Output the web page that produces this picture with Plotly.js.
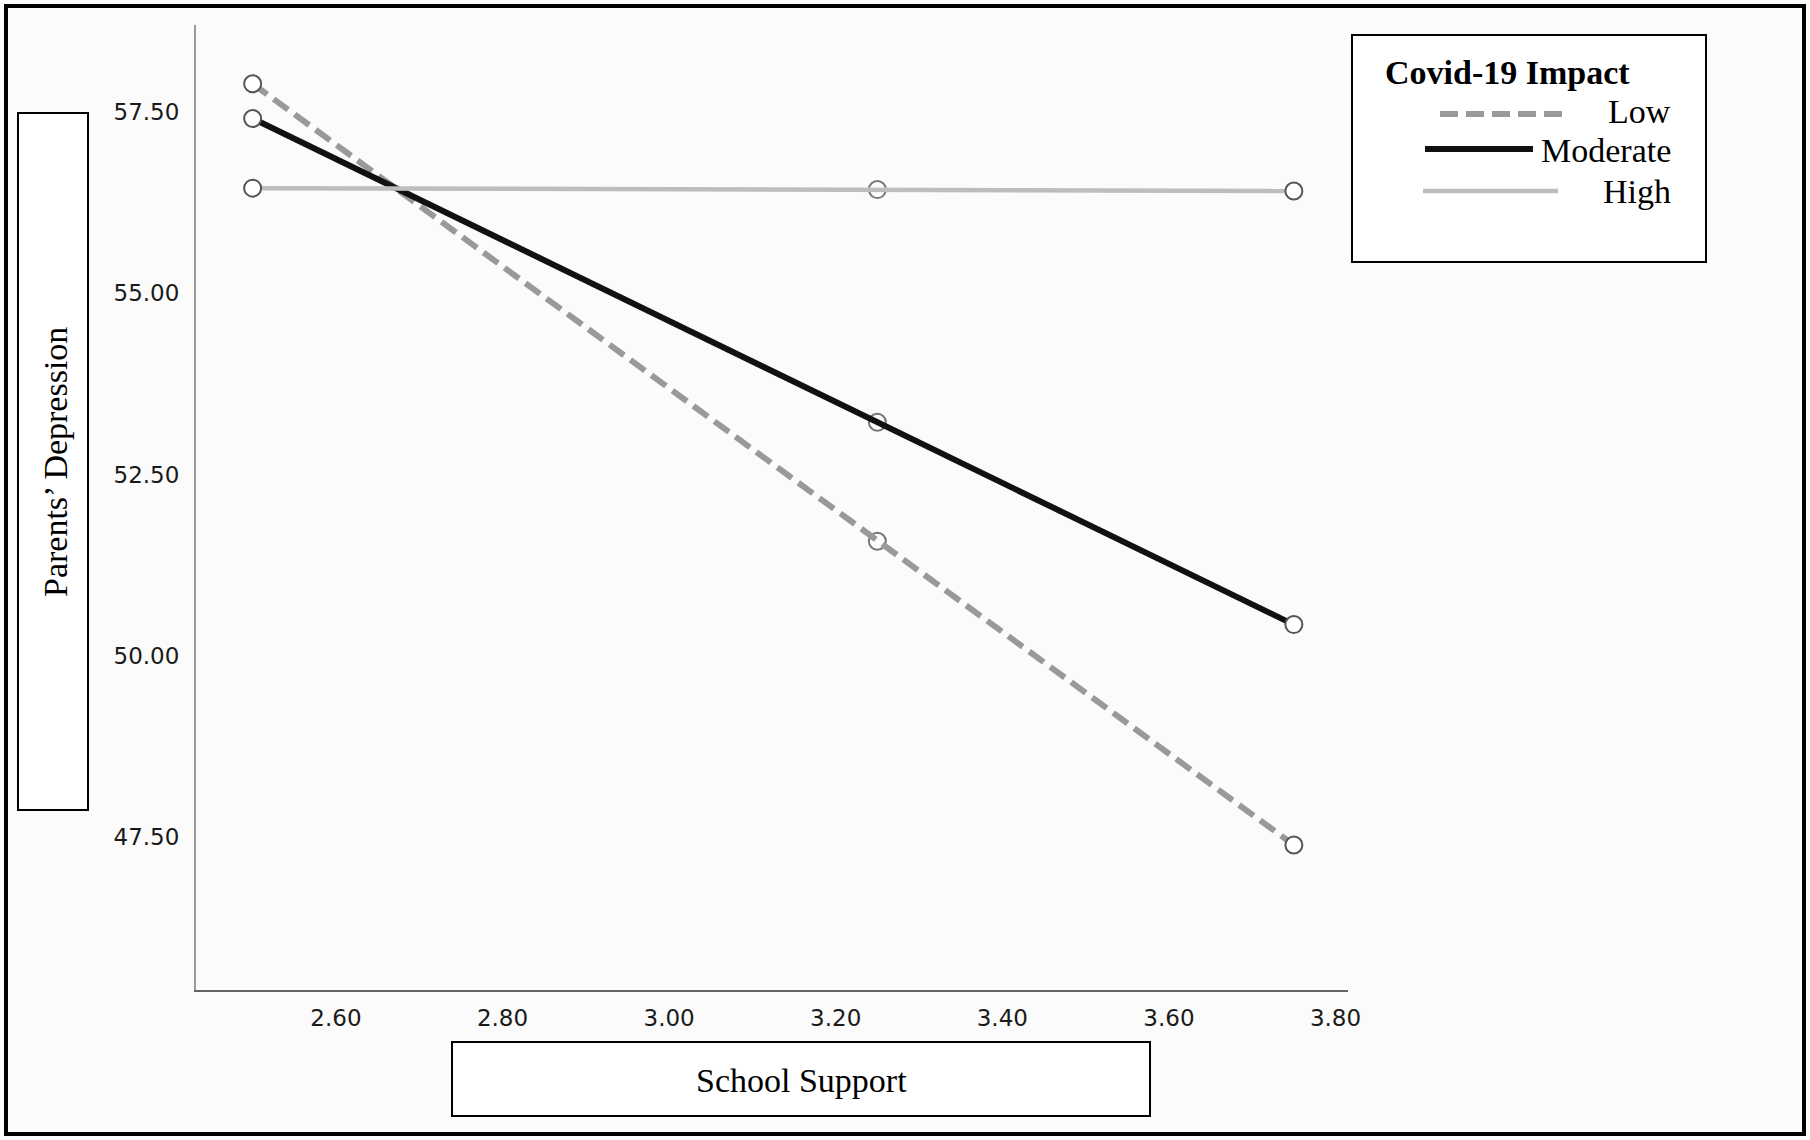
<!DOCTYPE html>
<html>
<head>
<meta charset="utf-8">
<script src="https://cdn.plot.ly/plotly-3.0.1.min.js"></script>
<style>
  html, body { margin: 0; padding: 0; background: #fbfbfb; }
  #chart { width: 1810px; height: 1140px; }
</style>
</head>
<body>
<div id="chart"></div>
<script>
// ---- Data ----
const schoolSupport = [2.50, 3.25, 3.75];
const seriesNames = ["Low", "Moderate", "High"];
const lowValues = [57.89, 51.58, 47.39];
const moderateValues = [57.41, 53.22, 50.43];
const highValues = [56.45, 56.43, 56.41];
const xTickVals = [2.60, 2.80, 3.00, 3.20, 3.40, 3.60, 3.80];
const xTickText = ["2.60", "2.80", "3.00", "3.20", "3.40", "3.60", "3.80"];
const yTickVals = [47.5, 50.0, 52.5, 55.0, 57.5];
const yTickText = ["47.50", "50.00", "52.50", "55.00", "57.50"];
const legendTitle = "Covid-19 Impact";
const xTitle = "School Support";
const yTitle = "Parents\u2019 Depression";

// ---- Styles ----
const seriesValues = [lowValues, moderateValues, highValues];
const lineStyles = [
  {color: "#999999", width: 6, dash: "18px,8px"},
  {color: "#111111", width: 6, dash: "solid"},
  {color: "#bdbdbd", width: 4.5, dash: "solid"}
];
const markerStyle = {symbol: "circle", size: 17, color: "#ffffff", line: {color: "#555555", width: 2}};

const traces = [];
// middle markers (under the lines)
seriesValues.forEach((vals, i) => {
  const idx = [1];
  traces.push({
    type: "scatter", mode: "markers", showlegend: false, hoverinfo: "skip",
    x: idx.map(k => schoolSupport[k]), y: idx.map(k => vals[k]),
    marker: Object.assign({}, markerStyle, {color: "rgba(255,255,255,0)", line: {color: "#777777", width: 2}})
  });
});
// lines
seriesValues.forEach((vals, i) => {
  traces.push({
    type: "scatter", mode: "lines", name: seriesNames[i], showlegend: false,
    x: schoolSupport, y: vals, line: lineStyles[i]
  });
});
// end markers (above the lines)
seriesValues.forEach((vals, i) => {
  const idx = [0, 2];
  traces.push({
    type: "scatter", mode: "markers", showlegend: false, hoverinfo: "skip",
    x: idx.map(k => schoolSupport[k]), y: idx.map(k => vals[k]),
    marker: markerStyle
  });
});

// ---- Layout helpers (pixel -> paper) ----
const L = 196, R = 1348, T = 25, B = 990;
const px = v => (v - L) / (R - L);
const py = v => (B - v) / (B - T);

const serif = "Liberation Serif, Times New Roman, serif";
const sans = "DejaVu Sans, sans-serif";

const shapes = [
  // outer frame
  {type: "rect", xref: "paper", yref: "paper", x0: px(6), x1: px(1804), y0: py(6), y1: py(1134),
   line: {color: "#000", width: 4}, fillcolor: "rgba(0,0,0,0)"},
  // y-title box
  {type: "rect", xref: "paper", yref: "paper", x0: px(18), x1: px(88), y0: py(113), y1: py(810),
   line: {color: "#000", width: 2}, fillcolor: "#ffffff", layer: "below"},
  // x-title box
  {type: "rect", xref: "paper", yref: "paper", x0: px(452), x1: px(1150), y0: py(1042), y1: py(1116),
   line: {color: "#000", width: 2}, fillcolor: "#ffffff", layer: "below"},
  // legend box
  {type: "rect", xref: "paper", yref: "paper", x0: px(1352), x1: px(1706), y0: py(35), y1: py(262),
   line: {color: "#000", width: 2}, fillcolor: "#ffffff", layer: "below"},
  // legend samples
  {type: "line", xref: "paper", yref: "paper", x0: px(1440), x1: px(1570), y0: py(114), y1: py(114), line: lineStyles[0]},
  {type: "line", xref: "paper", yref: "paper", x0: px(1425), x1: px(1533), y0: py(149), y1: py(149), line: lineStyles[1]},
  {type: "line", xref: "paper", yref: "paper", x0: px(1423), x1: px(1558), y0: py(191), y1: py(191), line: lineStyles[2]}
];

const annotations = [
  {text: legendTitle, xref: "paper", yref: "paper", x: px(1383), y: py(72), xanchor: "left", yanchor: "middle",
   showarrow: false, font: {family: serif, size: 34, color: "#000", weight: "bold"}},
  {text: seriesNames[0], xref: "paper", yref: "paper", x: px(1673), y: py(112), xanchor: "right", yanchor: "middle",
   showarrow: false, font: {family: serif, size: 34, color: "#000"}},
  {text: seriesNames[1], xref: "paper", yref: "paper", x: px(1673), y: py(151), xanchor: "right", yanchor: "middle",
   showarrow: false, font: {family: serif, size: 34, color: "#000"}},
  {text: seriesNames[2], xref: "paper", yref: "paper", x: px(1673), y: py(191), xanchor: "right", yanchor: "middle",
   showarrow: false, font: {family: serif, size: 34, color: "#000"}},
  {text: xTitle, xref: "paper", yref: "paper", x: px(801), y: py(1080), xanchor: "center", yanchor: "middle",
   showarrow: false, font: {family: serif, size: 34, color: "#000"}},
  {text: yTitle, xref: "paper", yref: "paper", x: px(55), y: py(462), xanchor: "center", yanchor: "middle",
   textangle: -90, showarrow: false, font: {family: serif, size: 34, color: "#000"}}
];

const layout = {
  width: 1810, height: 1140,
  margin: {l: L, r: 1810 - R, t: T, b: 1140 - B, pad: 0},
  paper_bgcolor: "#fbfbfb", plot_bgcolor: "#fbfbfb",
  showlegend: false,
  xaxis: {
    range: [2.432, 3.815], tickvals: xTickVals, ticktext: xTickText,
    showgrid: false, zeroline: false, showline: true, linecolor: "#666666", linewidth: 2,
    ticks: "", ticklabelstandoff: 6, tickfont: {family: sans, size: 23, color: "#1a1a1a"}
  },
  yaxis: {
    range: [45.39, 58.70], tickvals: yTickVals, ticktext: yTickText,
    showgrid: false, zeroline: false, showline: true, linecolor: "#999999", linewidth: 2,
    ticks: "", ticklabelstandoff: 10, tickfont: {family: sans, size: 23, color: "#1a1a1a"}
  },
  shapes: shapes,
  annotations: annotations
};

Plotly.newPlot("chart", traces, layout, {displayModeBar: false, staticPlot: true});
</script>
</body>
</html>
